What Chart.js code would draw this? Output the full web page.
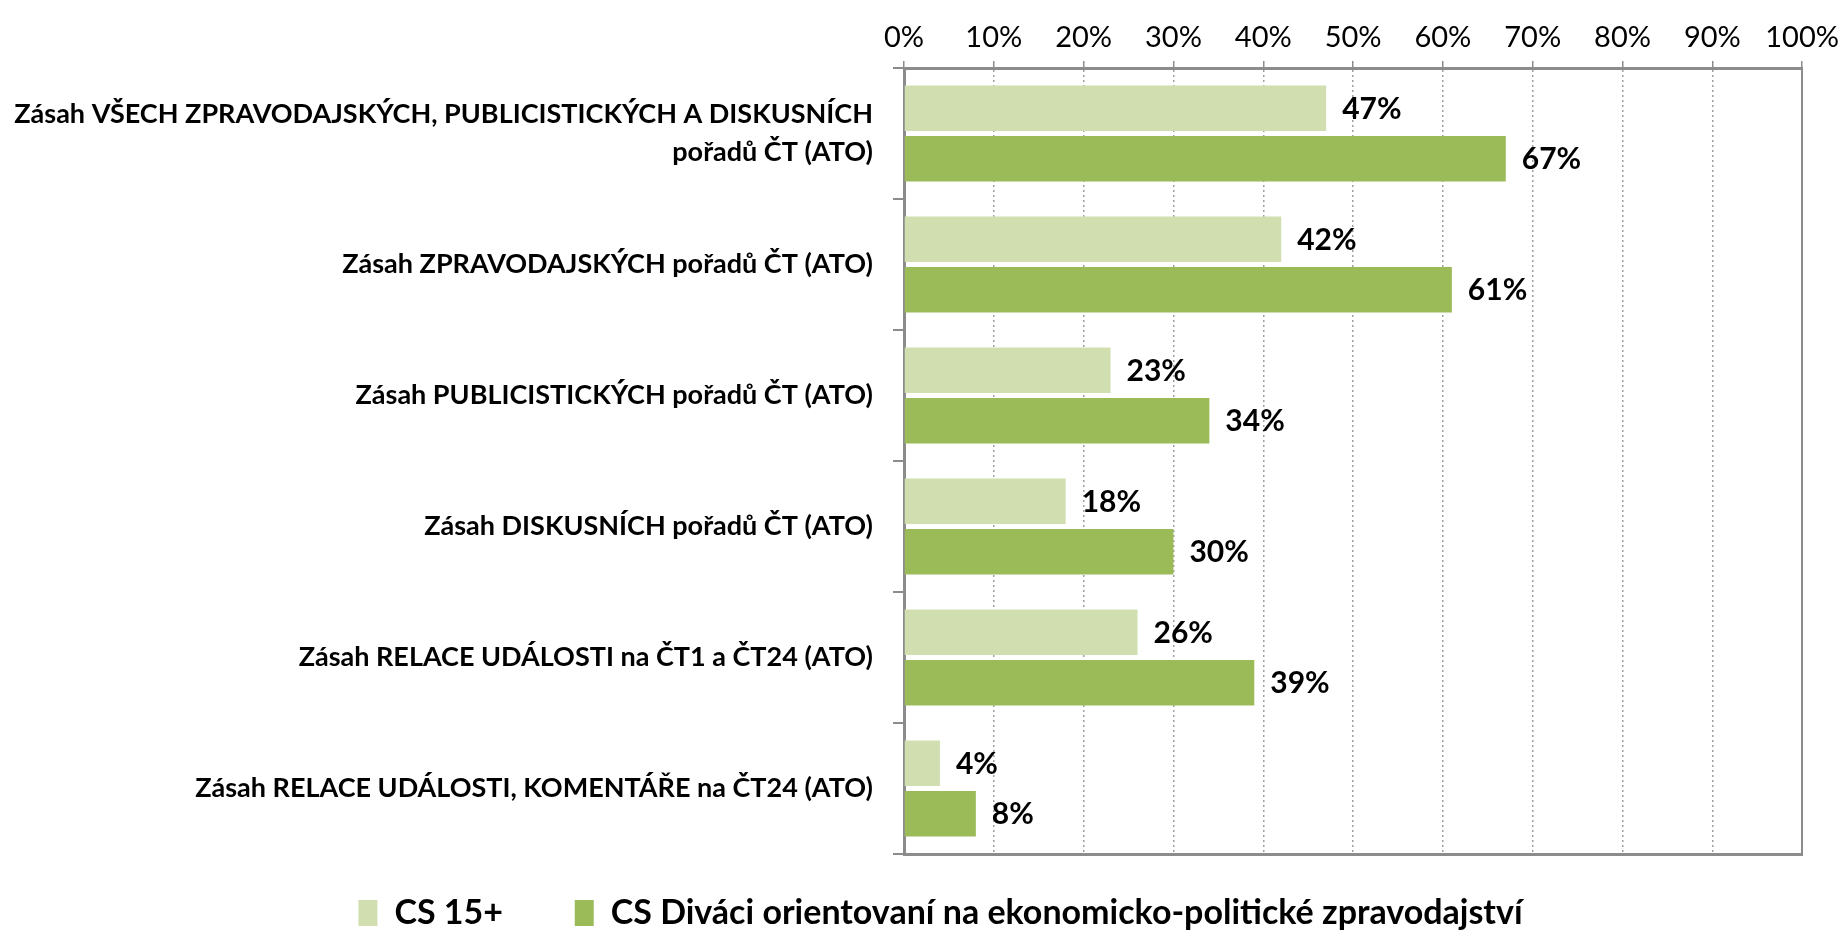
<!DOCTYPE html>
<html>
<head>
    <title>Zásah pořadů ČT</title>
    <script src="https://cdn.jsdelivr.net/npm/chart.js"></script>
    <style>
        html, body { margin: 0; padding: 0; background: #fff; }
        #wrap { width: 1845px; height: 932px; }
    </style>
</head>
<body>
    <div id="wrap"><canvas id="reachChart" width="1845" height="932"></canvas></div>

    <script>
        const categories = [
            ['Zásah VŠECH ZPRAVODAJSKÝCH, PUBLICISTICKÝCH A DISKUSNÍCH', 'pořadů ČT (ATO)'],
            'Zásah ZPRAVODAJSKÝCH pořadů ČT (ATO)',
            'Zásah PUBLICISTICKÝCH pořadů ČT (ATO)',
            'Zásah DISKUSNÍCH pořadů ČT (ATO)',
            'Zásah RELACE UDÁLOSTI na ČT1 a ČT24 (ATO)',
            'Zásah RELACE UDÁLOSTI, KOMENTÁŘE na ČT24 (ATO)'
        ];
        const seriesNames = ['CS 15+', 'CS Diváci orientovaní na ekonomicko-politické zpravodajství'];
        const cs15 = [47, 42, 23, 18, 26, 4];
        const csEkoPol = [67, 61, 34, 30, 39, 8];
        const xTicks = [0, 10, 20, 30, 40, 50, 60, 70, 80, 90, 100];

        const FONT = 'Lato';
        const AXIS_GREY = '#8c8c8c';

        // value labels next to each bar
        const barLabels = {
            id: 'barLabels',
            afterDatasetsDraw(chart) {
                const ctx = chart.ctx;
                ctx.save();
                ctx.font = 'bold 30px ' + FONT;
                ctx.fillStyle = '#000';
                ctx.textAlign = 'left';
                ctx.textBaseline = 'middle';
                chart.data.datasets.forEach((ds, i) => {
                    chart.getDatasetMeta(i).data.forEach((bar, j) => {
                        ctx.fillText(ds.data[j] + '%', bar.x + 16, bar.y + 1);
                    });
                });
                ctx.restore();
            }
        };

        // legend in the original sits a bit right of the canvas centre
        const legendShift = {
            id: 'legendShift',
            afterLayout(chart) {
                if (chart.legend) {
                    chart.legend.left += 36;
                    chart.legend.right += 36;
                }
            }
        };

        const ctx = document.getElementById('reachChart').getContext('2d');
        const reachChart = new Chart(ctx, {
            type: 'bar',
            data: {
                labels: categories,
                datasets: [{
                    label: seriesNames[0],
                    data: cs15,
                    backgroundColor: '#d1dfb0',
                    categoryPercentage: 0.77,
                    barPercentage: 0.9
                }, {
                    label: seriesNames[1],
                    data: csEkoPol,
                    backgroundColor: '#9bbb59',
                    categoryPercentage: 0.77,
                    barPercentage: 0.9
                }]
            },
            options: {
                indexAxis: 'y',
                responsive: false,
                animation: false,
                layout: { padding: { left: 0, right: 36, top: 0, bottom: 0 } },
                scales: {
                    x: {
                        position: 'top',
                        min: 0,
                        max: 100,
                        afterBuildTicks: axis => { axis.ticks = xTicks.map(v => ({ value: v })); },
                        afterFit: axis => { axis.height = 68; },
                        ticks: {
                            callback: v => v + '%',
                            color: '#000',
                            font: { family: FONT, size: 29 },
                            padding: 6
                        },
                        grid: {
                            color: '#a0a0a0',
                            lineWidth: 1.5,
                            tickColor: AXIS_GREY,
                            tickBorderDash: [],
                            tickLength: 7
                        },
                        border: { color: AXIS_GREY, width: 3, dash: [2, 3] }
                    },
                    x2: {
                        position: 'bottom',
                        min: 0,
                        max: 100,
                        ticks: { display: false },
                        grid: { drawOnChartArea: false, drawTicks: false },
                        border: { color: AXIS_GREY, width: 3 }
                    },
                    y: {
                        afterFit: axis => { axis.width = 904; },
                        ticks: {
                            color: '#000',
                            font: { family: FONT, size: 27, weight: 'bold', lineHeight: 1.4 },
                            padding: 20
                        },
                        grid: {
                            offset: true,
                            drawOnChartArea: false,
                            color: AXIS_GREY,
                            lineWidth: 2,
                            tickLength: 11
                        },
                        border: { color: AXIS_GREY, width: 3 }
                    },
                    y2: {
                        position: 'right',
                        ticks: { display: false },
                        grid: { drawOnChartArea: false, drawTicks: false },
                        border: { color: AXIS_GREY, width: 2 }
                    }
                },
                plugins: {
                    legend: {
                        position: 'bottom',
                        maxHeight: 78,
                        labels: {
                            color: '#000',
                            font: { family: FONT, size: 34, weight: 'bold' },
                            boxWidth: 19,
                            boxHeight: 26,
                            padding: 42,
                            generateLabels: chart => chart.data.datasets.map((ds, i) => ({
                                text: i === 0 ? ds.label + '\u2003\u2009' : ds.label,
                                fillStyle: ds.backgroundColor,
                                strokeStyle: ds.backgroundColor,
                                lineWidth: 0,
                                datasetIndex: i
                            }))
                        }
                    },
                    tooltip: { enabled: false }
                }
            },
            plugins: [barLabels, legendShift]
        });
    </script>
</body>
</html>
